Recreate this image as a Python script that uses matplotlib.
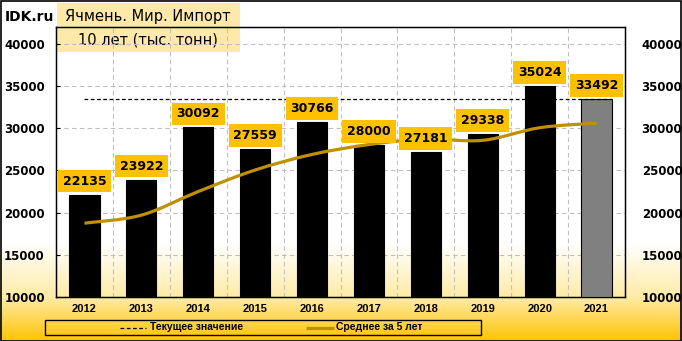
import numpy as np
import matplotlib.pyplot as plt
from matplotlib.path import Path
from matplotlib.patches import PathPatch

years = ['2012', '2013', '2014', '2015', '2016', '2017', '2018', '2019', '2020', '2021']
imports = [22135, 23922, 30092, 27559, 30766, 28000, 27181, 29338, 35024, 33492]
avg5 = [18750, 19700, 22500, 25050, 26895, 28068, 28720, 28569, 30062, 30607]
current = 33492
yticks = [10000, 15000, 20000, 25000, 30000, 35000, 40000]

W, H = 682, 341
fig = plt.figure(figsize=(6.82, 3.41), dpi=100)

# background gradient (white -> yellow at the bottom)
bg = fig.add_axes([0, 0, 1, 1], zorder=-10)
rows = np.arange(H)
stops_y = [0, 243, 297, 341]
r = np.full(H, 1.0)
g = np.interp(rows, stops_y, [1.0, 1.0, 235 / 255, 195 / 255])
b = np.interp(rows, stops_y, [1.0, 1.0, 165 / 255, 0.0])
grad = np.dstack([r, g, b])[0][:, None, :].repeat(2, axis=1)
bg.imshow(grad, aspect='auto', extent=[0, W, 0, H], origin='upper')
bg.set_xlim(0, W)
bg.set_ylim(0, H)
bg.axis('off')
bg.add_patch(plt.Rectangle((0.5, 0.5), W - 1.5, H - 1.5, fill=False, edgecolor='black', lw=1.2))

# legend drawn by hand, centred entries in a framed strip
bg.add_patch(plt.Rectangle((45, 6), 436, 15, fill=False, edgecolor='black', lw=1.0))
bg.plot([120, 146], [13.5, 13.5], color='black', linestyle=(0, (3, 2)), lw=0.9)
bg.text(150, 13.5, 'Текущее значение', fontsize=7.5, family='Liberation Sans', fontweight='bold',
        va='center', ha='left')
bg.plot([306, 334], [13.5, 13.5], color='#BF9000', lw=2.3, solid_capstyle='butt')
bg.text(336, 13.5, 'Среднее за 5 лет', fontsize=7.5, family='Liberation Sans', fontweight='bold',
        va='center', ha='left')

ax = fig.add_axes([56 / W, 44 / H, 569 / W, 270 / H])
ax.set_facecolor('none')
x = np.arange(len(years))
colors = ['black'] * 9 + ['#808080']
ax.bar(x, imports, width=0.53, color=colors, edgecolor='black', linewidth=0.8, zorder=3)

ax.plot([0, 9 + 0.265], [current, current], color='black', linestyle=(0, (3, 2)), lw=0.9, zorder=4)

# smoothed 5-year average line
verts = [(x[0], avg5[0])]
codes = [Path.MOVETO]
pts = list(zip(x, avg5))
for i in range(len(pts) - 1):
    p0 = pts[i - 1] if i > 0 else pts[i]
    p1 = pts[i]
    p2 = pts[i + 1]
    p3 = pts[i + 2] if i + 2 < len(pts) else pts[i + 1]
    c1 = (p1[0] + (p2[0] - p0[0]) / 6, p1[1] + (p2[1] - p0[1]) / 6)
    c2 = (p2[0] - (p3[0] - p1[0]) / 6, p2[1] - (p3[1] - p1[1]) / 6)
    verts += [c1, c2, p2]
    codes += [Path.CURVE4] * 3
ax.add_patch(PathPatch(Path(verts, codes), facecolor='none', edgecolor='#BF9000', lw=2.3, zorder=5,
                       capstyle='butt'))

for xi, v in zip(x, imports):
    ax.annotate(f'{v}', (xi, v), xytext=(0, 13.5), textcoords='offset pixels', ha='center', va='center',
                fontsize=9, fontweight='bold', color='black', zorder=6,
                bbox=dict(boxstyle='square,pad=0.38', facecolor='#FFC000', edgecolor='none'))

ax.set_xlim(-0.5, 9.5)
ax.set_ylim(10000, 42000)
ax.set_yticks(yticks)
ax.set_xticks(x)
ax.set_xticklabels(years, fontsize=8, fontweight='bold', family='Liberation Sans')
ax.set_xticks(np.arange(0.5, 9.5, 1), minor=True)
ax.tick_params(axis='x', which='both', length=0, pad=5)
ax.tick_params(axis='y', direction='in', length=3, pad=8, labelsize=8.5)
for lab in ax.get_yticklabels():
    lab.set_fontweight('bold')
ax.grid(True, axis='y', color='#C0C0C0', linestyle=(0, (4, 3)), lw=0.8, zorder=0)
ax.grid(True, axis='x', which='minor', color='#C0C0C0', linestyle=(0, (4, 3)), lw=0.8, zorder=0)
for s in ax.spines.values():
    s.set_linewidth(1.0)
    s.set_color('black')

ax2 = ax.twinx()
ax2.set_ylim(10000, 42000)
ax2.set_yticks(yticks)
ax2.tick_params(axis='y', length=0, pad=12, labelsize=8.5)
for lab in ax2.get_yticklabels():
    lab.set_fontweight('bold')

fig.text(5 / W, 1 - 17 / H, 'IDK.ru', fontsize=10, fontweight='bold', va='center', ha='left')
# title box
bg.add_patch(plt.Rectangle((57, H - 52), 183, 49, facecolor='#FFE699', edgecolor='none', alpha=0.85,
                           zorder=8))
bg.text(148, H - 17, 'Ячмень. Мир. Импорт', fontsize=10.5, ha='center', va='center', zorder=9)
bg.text(148, H - 40, '10 лет (тыс. тонн)', fontsize=10.5, ha='center', va='center', zorder=9)

fig.savefig('out.png', dpi=100)
